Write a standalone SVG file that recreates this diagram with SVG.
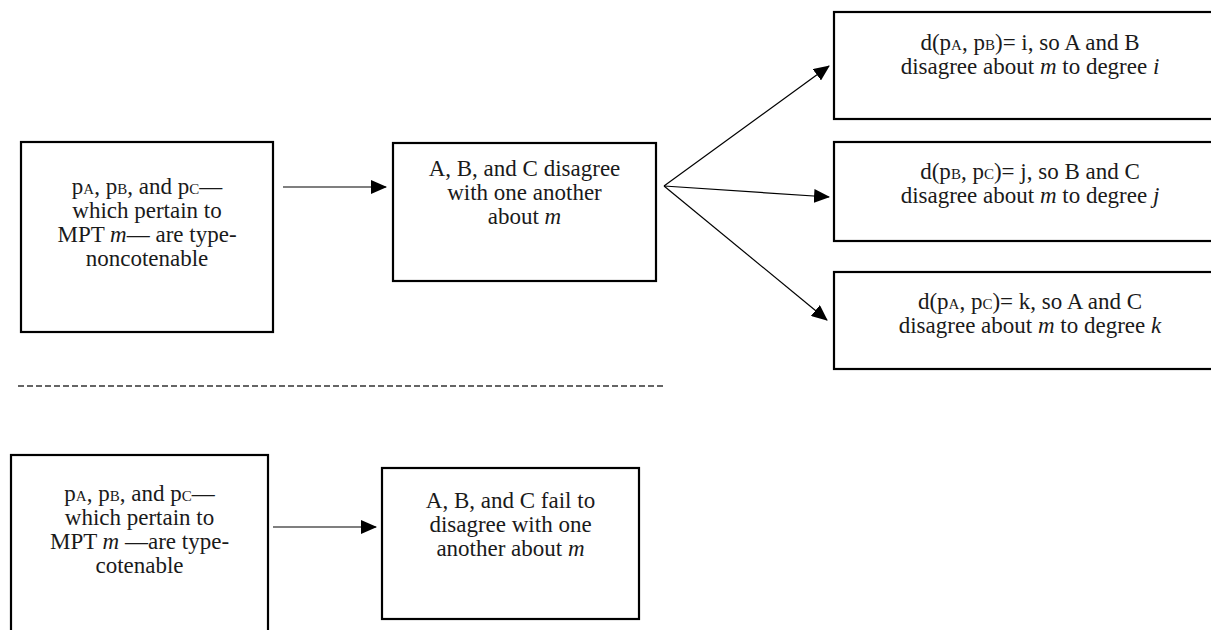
<svg xmlns="http://www.w3.org/2000/svg" width="1211" height="630" viewBox="0 0 1211 630">
<defs>
<marker id="ah" markerWidth="16" markerHeight="14" refX="15" refY="7" orient="auto" markerUnits="userSpaceOnUse">
<path d="M0,0 L16,7 L0,14 Z" fill="#000"/>
</marker>
<style>
.box{fill:#fff;stroke:#000;stroke-width:2.2}
.t{font-family:"Liberation Serif","Times New Roman",serif;font-size:23px;fill:#1a1a1a;text-anchor:middle}
.s{font-size:15px}
.i{font-style:italic}
.c{stroke:#000;stroke-width:1.2;fill:none}
.d{stroke:#333;stroke-width:1.3;stroke-dasharray:6 3;fill:none}
</style>
</defs>
<rect width="1211" height="630" fill="#fff"/>
<g id="connectors">
<line class="c" x1="283" y1="187" x2="386" y2="187" marker-end="url(#ah)"/>
<line class="c" x1="664" y1="186" x2="829" y2="66" marker-end="url(#ah)"/>
<line class="c" x1="664" y1="186" x2="829" y2="197" marker-end="url(#ah)"/>
<line class="c" x1="664" y1="186" x2="827" y2="320" marker-end="url(#ah)"/>
<line class="c" x1="273" y1="527" x2="376" y2="527" marker-end="url(#ah)"/>
<line class="d" x1="18" y1="386" x2="663" y2="386"/>
</g>
<g id="n1">
<rect class="box" x="21" y="142" width="252" height="190"/>
<text class="t" x="147" y="194">p<tspan class="s">A</tspan>, p<tspan class="s">B</tspan>, and p<tspan class="s">C</tspan>—</text>
<text class="t" x="147" y="218">which pertain to</text>
<text class="t" x="147" y="242">MPT <tspan class="i">m</tspan>— are type-</text>
<text class="t" x="147" y="266">noncotenable</text>
</g>
<g id="n2">
<rect class="box" x="393" y="143" width="263" height="138"/>
<text class="t" x="524.5" y="176">A, B, and C disagree</text>
<text class="t" x="524.5" y="200">with one another</text>
<text class="t" x="524.5" y="224">about <tspan class="i">m</tspan></text>
</g>
<g id="n3">
<rect class="box" x="834" y="12" width="400" height="107"/>
<text class="t" x="1030" y="50">d(p<tspan class="s">A</tspan>, p<tspan class="s">B</tspan>)= i, so A and B</text>
<text class="t" x="1030" y="74">disagree about <tspan class="i">m</tspan> to degree <tspan class="i">i</tspan></text>
</g>
<g id="n4">
<rect class="box" x="834" y="142" width="400" height="99"/>
<text class="t" x="1030" y="179">d(p<tspan class="s">B</tspan>, p<tspan class="s">C</tspan>)= j, so B and C</text>
<text class="t" x="1030" y="203">disagree about <tspan class="i">m</tspan> to degree <tspan class="i">j</tspan></text>
</g>
<g id="n5">
<rect class="box" x="834" y="272" width="400" height="97"/>
<text class="t" x="1030" y="309">d(p<tspan class="s">A</tspan>, p<tspan class="s">C</tspan>)= k, so A and C</text>
<text class="t" x="1030" y="333">disagree about <tspan class="i">m</tspan> to degree <tspan class="i">k</tspan></text>
</g>
<g id="n6">
<rect class="box" x="11" y="455" width="257" height="200"/>
<text class="t" x="139.5" y="501">p<tspan class="s">A</tspan>, p<tspan class="s">B</tspan>, and p<tspan class="s">C</tspan>—</text>
<text class="t" x="139.5" y="525">which pertain to</text>
<text class="t" x="139.5" y="549">MPT <tspan class="i">m</tspan> —are type-</text>
<text class="t" x="139.5" y="573">cotenable</text>
</g>
<g id="n7">
<rect class="box" x="382" y="468" width="257" height="151"/>
<text class="t" x="510.5" y="508">A, B, and C fail to</text>
<text class="t" x="510.5" y="532">disagree with one</text>
<text class="t" x="510.5" y="556">another about <tspan class="i">m</tspan></text>
</g>
</svg>
